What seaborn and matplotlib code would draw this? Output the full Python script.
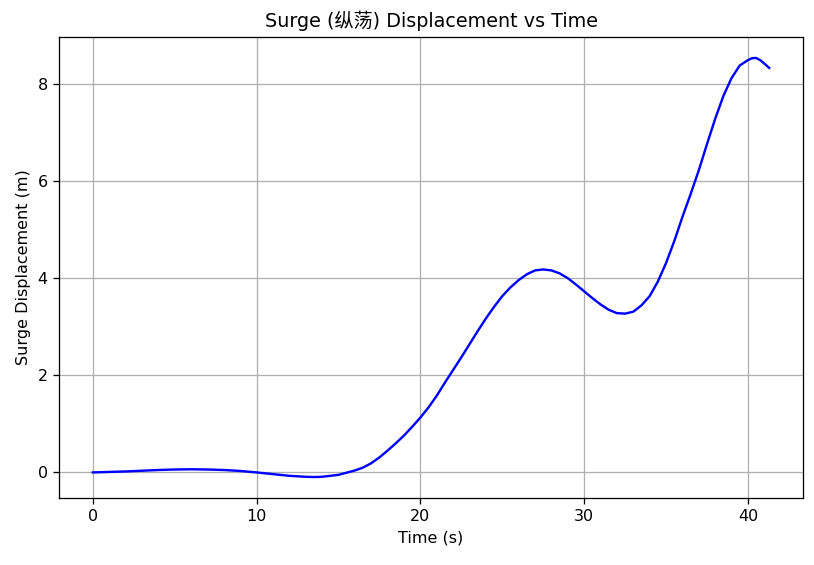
import matplotlib
matplotlib.use("Agg")
import matplotlib.pyplot as plt
import seaborn as sns
import pandas as pd

time_s = [0, 1, 2, 3, 4, 5, 6, 7, 8, 9, 10, 11, 12, 13, 13.5, 14, 15, 16, 16.5,
          17, 17.5, 18, 18.5, 19, 19.5, 20, 20.5, 21, 21.5, 22, 22.5, 23, 23.5,
          24, 24.5, 25, 25.5, 26, 26.5, 27, 27.5, 28, 28.5, 29, 29.5, 30, 30.5,
          31, 31.5, 32, 32.5, 33, 33.5, 34, 34.5, 35, 35.5, 36, 36.5, 37, 37.5,
          38, 38.5, 39, 39.5, 40, 40.25, 40.5, 40.75, 41, 41.3]
surge_m = [0.0, 0.01, 0.02, 0.035, 0.05, 0.06, 0.065, 0.06, 0.05, 0.03, 0.0, -0.035,
           -0.07, -0.09, -0.095, -0.09, -0.05, 0.04, 0.1,
           0.19, 0.31, 0.45, 0.60, 0.76, 0.94, 1.13, 1.34, 1.58, 1.85, 2.11, 2.37,
           2.64, 2.91, 3.17, 3.41, 3.63, 3.81, 3.96, 4.08, 4.16, 4.18, 4.16, 4.10,
           4.0, 3.87, 3.73, 3.59, 3.46, 3.35, 3.28, 3.27, 3.31, 3.44, 3.63, 3.93,
           4.31, 4.76, 5.26, 5.73, 6.22, 6.76, 7.28, 7.75, 8.12, 8.38, 8.49, 8.53,
           8.535, 8.49, 8.42, 8.33]

df = pd.DataFrame({"Time (s)": time_s, "Surge Displacement (m)": surge_m})

plt.rcParams['font.family'] = ['DejaVu Sans', 'Noto Sans CJK SC']

dpi = 115
fig, ax = plt.subplots(figsize=(814 / dpi, 565 / dpi), dpi=dpi)
fig.subplots_adjust(left=0.0725, right=0.9865, top=0.9345, bottom=0.1186)
sns.lineplot(data=df, x="Time (s)", y="Surge Displacement (m)", color="blue",
             linewidth=1.5, ax=ax)
ax.set_title("Surge (纵荡) Displacement vs Time")
ax.set_xlabel("Time (s)")
ax.set_ylabel("Surge Displacement (m)")
ax.grid(True)
fig.savefig("out.png", dpi=dpi)
